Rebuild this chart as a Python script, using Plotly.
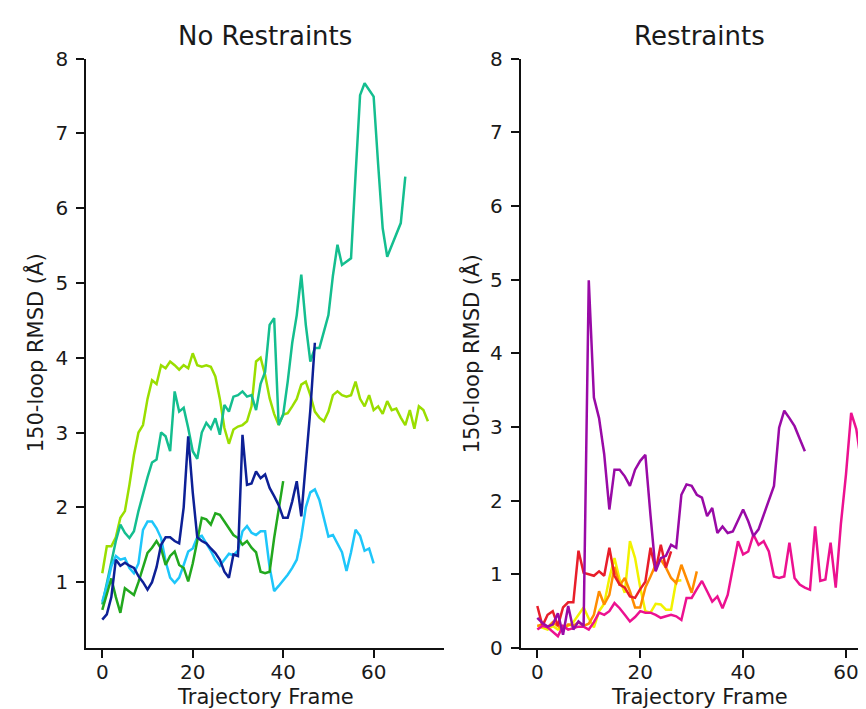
import plotly.graph_objects as go

# ---------------- data: No Restraints ----------------
nr_darkblue = [0.50, 0.57, 0.80, 1.30, 1.22, 1.26, 1.22, 1.19, 1.08, 1.00, 0.90, 1.00, 1.20, 1.50,
               1.60, 1.60, 1.55, 1.52, 2.00, 2.95, 2.20, 1.60, 1.55, 1.52, 1.45, 1.39, 1.30, 1.14,
               1.06, 1.37, 1.35, 2.97, 2.30, 2.32, 2.48, 2.39, 2.44, 2.26, 2.15, 2.03, 1.86, 1.86,
               2.08, 2.35, 1.88, 2.55, 3.30, 4.20]
nr_lightblue = [0.74, 0.95, 1.21, 1.35, 1.30, 1.32, 1.19, 1.12, 1.25, 1.70, 1.81, 1.81, 1.72, 1.59,
                1.28, 1.06, 0.99, 1.06, 1.23, 1.41, 1.45, 1.60, 1.62, 1.52, 1.42, 1.30, 1.22, 1.30,
                1.38, 1.36, 1.42, 1.68, 1.75, 1.66, 1.63, 1.68, 1.68, 1.20, 0.88, 0.95, 1.02, 1.10,
                1.19, 1.30, 1.60, 2.00, 2.20, 2.24, 2.10, 1.86, 1.61, 1.63, 1.52, 1.40, 1.15, 1.40,
                1.70, 1.62, 1.42, 1.45, 1.25]
nr_green = [0.63, 0.85, 1.05, 0.80, 0.59, 0.92, 0.88, 0.83, 1.00, 1.19, 1.39, 1.46, 1.55, 1.45,
            1.23, 1.35, 1.41, 1.23, 1.19, 1.01, 1.25, 1.55, 1.86, 1.84, 1.77, 1.92, 1.90, 1.81,
            1.72, 1.63, 1.59, 1.50, 1.55, 1.46, 1.40, 1.14, 1.12, 1.14, 1.59, 1.99, 2.35]
nr_teal = [0.70, 1.00, 1.30, 1.55, 1.77, 1.66, 1.59, 1.68, 1.95, 2.19, 2.40, 2.60, 2.64, 3.00,
           2.95, 2.75, 3.55, 3.28, 3.33, 3.06, 2.75, 2.65, 3.00, 3.13, 3.05, 3.19, 2.97, 3.37,
           3.28, 3.48, 3.50, 3.55, 3.48, 3.50, 3.30, 3.65, 3.81, 4.44, 4.53, 3.10, 3.24, 3.68,
           4.20, 4.57, 5.11, 4.44, 3.95, 4.13, 4.13, 4.35, 4.57, 5.10, 5.51, 5.24, 5.28, 5.33,
           6.44, 7.51, 7.67, 7.58, 7.49, 6.58, 5.73, 5.35, 5.50, 5.65, 5.80, 6.42]
nr_lime = [1.12, 1.48, 1.48, 1.60, 1.86, 1.95, 2.30, 2.70, 3.00, 3.10, 3.45, 3.70, 3.65, 3.90,
           3.86, 3.95, 3.90, 3.84, 3.90, 3.86, 4.06, 3.90, 3.88, 3.90, 3.88, 3.75, 3.45, 3.06,
           2.85, 3.04, 3.08, 3.10, 3.15, 3.35, 3.95, 4.00, 3.77, 3.46, 3.25, 3.10, 3.24, 3.26,
           3.35, 3.45, 3.64, 3.68, 3.50, 3.28, 3.20, 3.15, 3.28, 3.50, 3.55, 3.50, 3.48, 3.50,
           3.68, 3.45, 3.35, 3.50, 3.30, 3.35, 3.25, 3.42, 3.30, 3.32, 3.20, 3.10, 3.30, 3.05,
           3.35, 3.30, 3.15]

# ---------------- data: Restraints ----------------
r_purple = [0.41, 0.34, 0.29, 0.32, 0.47, 0.18, 0.57, 0.25, 0.36, 0.30, 4.99, 3.40, 3.12, 2.63,
            1.88, 2.42, 2.42, 2.33, 2.20, 2.42, 2.54, 2.62, 1.80, 1.04, 1.22, 1.25, 1.40, 1.36,
            2.08, 2.22, 2.20, 2.08, 2.04, 1.79, 1.90, 1.56, 1.65, 1.56, 1.58, 1.72, 1.88, 1.72,
            1.52, 1.61, 1.81, 2.00, 2.20, 2.99, 3.22, 3.12, 3.01, 2.84, 2.67]
r_red = [0.57, 0.30, 0.45, 0.50, 0.30, 0.55, 0.62, 0.62, 1.32, 1.02, 1.00, 0.98, 1.04, 0.98,
         1.36, 0.98, 0.86, 0.82, 0.70, 0.68, 0.80, 0.90, 1.36, 1.05, 1.40, 1.09, 1.31]
r_yellow = [0.30, 0.27, 0.25, 0.30, 0.25, 0.28, 0.30, 0.35, 0.45, 0.55, 0.40, 0.28, 0.50, 0.60,
            0.95, 1.22, 0.93, 0.75, 1.45, 1.22, 0.82, 0.50, 0.48, 0.60, 0.59, 0.52, 0.52, 0.91,
            0.92]
r_orange = [0.30, 0.32, 0.28, 0.35, 0.30, 0.25, 0.32, 0.30, 0.35, 0.30, 0.33, 0.45, 0.77, 0.59,
            0.72, 1.10, 0.85, 0.95, 0.77, 0.55, 0.55, 0.82, 0.97, 1.13, 1.20, 1.09, 0.95, 0.88,
            1.13, 0.95, 0.75, 1.04]
r_magenta = [0.25, 0.30, 0.28, 0.22, 0.16, 0.30, 0.25, 0.27, 0.29, 0.29, 0.25, 0.35, 0.48, 0.45,
             0.50, 0.61, 0.54, 0.45, 0.36, 0.42, 0.50, 0.48, 0.48, 0.45, 0.41, 0.43, 0.45, 0.43,
             0.38, 0.68, 0.68, 0.80, 0.91, 0.77, 0.63, 0.70, 0.54, 0.72, 1.08, 1.45, 1.27, 1.31,
             1.54, 1.40, 1.45, 1.31, 0.97, 0.95, 0.97, 1.43, 0.95, 0.86, 0.82, 0.79, 1.65, 0.91,
             0.93, 1.43, 0.82, 1.68, 2.36, 3.19, 2.97, 2.49]

left_series = [
    (nr_lime, "#9ade00"),
    (nr_teal, "#14be8f"),
    (nr_lightblue, "#1ec6fa"),
    (nr_green, "#22a81e"),
    (nr_darkblue, "#0d2096"),
]
right_series = [
    (r_yellow, "#f2f200"),
    (r_orange, "#ff8c00"),
    (r_red, "#e81e2a"),
    (r_magenta, "#ec1190"),
    (r_purple, "#990aa6"),
]

x_ticks = [0, 20, 40, 60]
W, H = 866, 709

fig = go.Figure()
for ys, col in left_series:
    fig.add_trace(go.Scatter(x=list(range(len(ys))), y=ys, mode="lines",
                             line=dict(color=col, width=2.5), xaxis="x", yaxis="y",
                             showlegend=False))
for ys, col in right_series:
    fig.add_trace(go.Scatter(x=list(range(len(ys))), y=ys, mode="lines",
                             line=dict(color=col, width=2.5), xaxis="x2", yaxis="y2",
                             showlegend=False))

font_family = "DejaVu Sans"
txt_col = "#1a1a1a"
ydom = [(709 - 640) / H, (709 - 50.5) / H]
tick_font = dict(family=font_family, size=20, color=txt_col)
axis_common = dict(showline=True, linecolor="#111", linewidth=1.7, ticks="outside",
                   ticklen=8, tickwidth=1.6, tickcolor="#111", showgrid=False,
                   zeroline=False, mirror=False, tickfont=tick_font)
xstyle = dict(axis_common, ticklabelstandoff=-3)
ystyle = dict(axis_common, ticklabelstandoff=4)

L0, L1 = 78, 436.2
R0, R1 = 512.7, 871

fig.update_layout(
    width=W, height=H,
    margin=dict(l=0, r=0, t=0, b=0, autoexpand=False),
    plot_bgcolor="white", paper_bgcolor="white",
    xaxis=dict(domain=[L0 / W, L1 / W], range=[-3.6, 75.6], tickvals=x_ticks,
               anchor="y", automargin=False, **xstyle),
    yaxis=dict(domain=ydom, range=[0.12, 8], tickvals=list(range(1, 9)),
               anchor="x", automargin=False, **ystyle),
    xaxis2=dict(domain=[R0 / W, 1.0], range=[-3.23, 65.44], tickvals=x_ticks,
                anchor="y2", automargin=False, **xstyle),
    yaxis2=dict(domain=ydom, range=[0, 8], tickvals=list(range(0, 9)),
                anchor="x2", automargin=False, **ystyle),
)

ymid = 1 - (640 + 50.5) / 2 / H
lab_font = dict(family=font_family, size=21, color=txt_col)
title_font = dict(family=font_family, size=26, color=txt_col)
annots = [
    dict(text="No Restraints", x=(L0 + L1) / 2 / W, y=1 - 28 / H, font=title_font),
    dict(text="Restraints", x=(R0 + R1) / 2 / W, y=1 - 28 / H, font=title_font),
    dict(text="Trajectory Frame", x=(L0 + L1) / 2 / W, y=1 - 689 / H, font=lab_font),
    dict(text="Trajectory Frame", x=(R0 + R1) / 2 / W, y=1 - 689 / H, font=lab_font),
    dict(text="150-loop RMSD (Å)", x=27 / W, y=ymid, textangle=-90, font=lab_font),
    dict(text="150-loop RMSD (Å)", x=463 / W, y=ymid, textangle=-90, font=lab_font),
]
for a in annots:
    a.update(xref="paper", yref="paper", showarrow=False, xanchor="center",
             yanchor="middle", borderpad=0)
fig.update_layout(annotations=annots)

fig.write_html("out.html")
